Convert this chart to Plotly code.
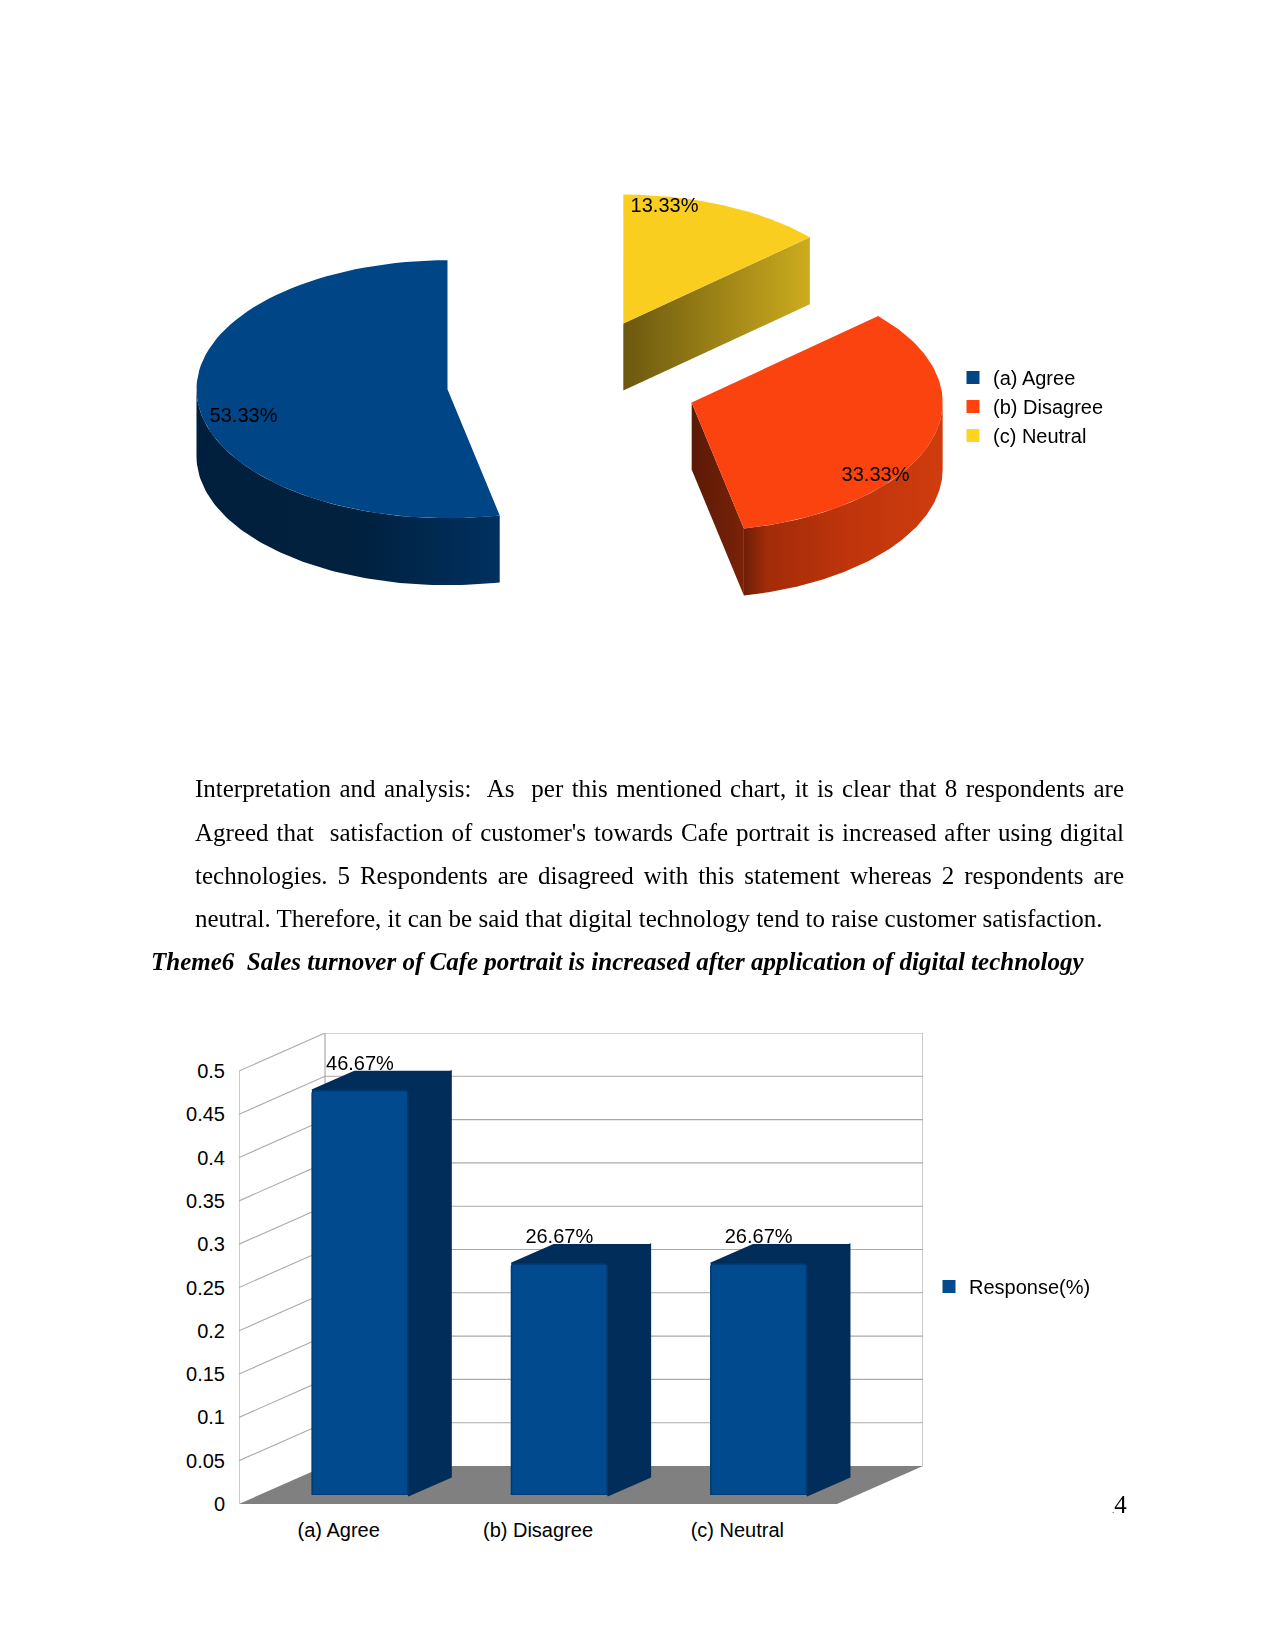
import json
import math
import plotly.graph_objects as go

# ---------- data ----------
PIE_CATEGORIES = ["(a) Agree", "(b) Disagree", "(c) Neutral"]
PIE_SHARES = [53.33, 33.33, 13.33]
BAR_CATEGORIES = ["(a) Agree", "(b) Disagree", "(c) Neutral"]
BAR_VALUES = [0.4667, 0.2667, 0.2667]
BAR_LABELS = ["46.67%", "26.67%", "26.67%"]
BAR_SERIES = "Response(%)"
Y_TICKS = [0, 0.05, 0.1, 0.15, 0.2, 0.25, 0.3, 0.35, 0.4, 0.45, 0.5]
Y_TICK_LABELS = ["0", "0.05", "0.1", "0.15", "0.2", "0.25", "0.3", "0.35", "0.4", "0.45", "0.5"]

BODY_LINES = [
    "Interpretation and analysis:  As  per this mentioned chart, it is clear that 8 respondents are",
    "Agreed that  satisfaction of customer's towards Cafe portrait is increased after using digital",
    "technologies. 5 Respondents are disagreed with this statement whereas 2 respondents are",
    "neutral. Therefore, it can be said that digital technology tend to raise customer satisfaction.",
]
HEADING = "Theme6  Sales turnover of Cafe portrait is increased after application of digital technology"

# ---------- styling / layout constants ----------
W, H = 1275, 1650
SANS = "Liberation Sans"
SERIF = "Liberation Serif"
BLUE, ORANGE, YELLOW = "#004586", "#ff420e", "#ffd320"
TOP_COLORS = ["#004586", "#fb430f", "#f9ce1f"]
DARK_BLUE = "#002d59"
GRID = "#aaaaaa"


def px(x):
    return x / W


def py(y):
    return 1 - y / H


fig = go.Figure()

# ---------- exploded 3-D pie (own page-scaled axes) ----------
CX, CY, RX, RY, EXPLODE, DEPTH = 572.3, 382.5, 251, 129, 0.5, 67
total = sum(PIE_SHARES)
starts, acc = [], 0.0
for s in PIE_SHARES:
    starts.append(acc)
    acc += s / total * 360


def slice_center(start, sweep):
    mid = math.radians(start + sweep / 2)
    return CX - EXPLODE * RX * math.sin(mid), CY - EXPLODE * RY * math.cos(mid)


def arc(c, a0, a1, dy=0.0, n=80):
    pts = []
    for i in range(n + 1):
        t = math.radians(a0 + (a1 - a0) * i / n)
        pts.append((c[0] - RX * math.sin(t), c[1] - RY * math.cos(t) + dy))
    return pts


def poly(pts, color=None, gradient=None, stroke=0):
    xs = [p[0] for p in pts] + [pts[0][0]]
    ys = [p[1] for p in pts] + [pts[0][1]]
    kw = dict(fillcolor=color) if color else dict(fillgradient=gradient)
    line = dict(width=stroke, color=color) if stroke else dict(width=0)
    return dict(x=xs, y=ys, mode="lines", fill="toself", line=line,
                hoverinfo="skip", showlegend=False, **kw)


def hgrad(stops):
    return dict(type="horizontal", colorscale=stops)


sweeps = [s / total * 360 for s in PIE_SHARES]
centers = [slice_center(a, w) for a, w in zip(starts, sweeps)]
PIE_AX = dict(xaxis="x4", yaxis="y4")

# blue: visible curved wall runs from the leftmost point to the slice end
a_end = starts[0] + sweeps[0]
outer = arc(centers[0], 90, a_end)
fig.add_trace(go.Scatter(**poly(outer + arc(centers[0], a_end, 90, DEPTH),
                                gradient=hgrad([[0, "#001f3d"], [0.55, "#00213f"], [1, "#003160"]])), **PIE_AX))
# orange: left cut face, then the curved wall
a0 = starts[1]
a1 = a0 + sweeps[1]
c = centers[1]
edge = arc(c, a0, a0, n=1)[0]
fig.add_trace(go.Scatter(**poly([c, edge, (edge[0], edge[1] + DEPTH), (c[0], c[1] + DEPTH)],
                                gradient=hgrad([[0, "#5a1a06"], [1, "#7a2208"]])), **PIE_AX))
fig.add_trace(go.Scatter(**poly(arc(c, a0, 270) + arc(c, 270, a0, DEPTH),
                                gradient=hgrad([[0, "#6e1f07"], [0.12, "#a32c09"], [0.5, "#bd340b"], [1, "#d03c0e"]])), **PIE_AX))
# yellow: cut face facing the viewer
c = centers[2]
edge = arc(c, starts[2], starts[2], n=1)[0]
fig.add_trace(go.Scatter(**poly([c, edge, (edge[0], edge[1] + DEPTH), (c[0], c[1] + DEPTH)],
                                gradient=hgrad([[0, "#6b5810"], [1, "#cdac1e"]])), **PIE_AX))
# top faces
for a, w, c, col in zip(starts, sweeps, centers, TOP_COLORS):
    fig.add_trace(go.Scatter(**poly([c] + arc(c, a, a + w), color=col), **PIE_AX))

# pie value labels
PIE_LABEL_POS = [(243.5, 417), (875.5, 476), (664.5, 207)]
for s, (lx, ly) in zip(PIE_SHARES, PIE_LABEL_POS):
    fig.add_trace(go.Scatter(x=[lx], y=[ly], mode="text", text=[f"{s:.2f}%"], textposition="middle center",
                             textfont=dict(family=SANS, size=20, color="#000000"),
                             hoverinfo="skip", showlegend=False, cliponaxis=False, **PIE_AX))
# pie legend entries
for name, col in zip(PIE_CATEGORIES, [BLUE, ORANGE, YELLOW]):
    fig.add_trace(go.Scatter(x=[None], y=[None], mode="markers", name=name,
                             marker=dict(symbol="square", size=13, color=col),
                             legend="legend", **PIE_AX))

# ---------- 3-D column chart ----------
FRONT_L, FRONT_R, FRONT_T, FRONT_B = 239, 837, 1071, 1504   # value-axis plane
UX = (FRONT_R - FRONT_L) / 3        # px per category
UY = (FRONT_B - FRONT_T) / 0.5      # px per unit of value
WALL_DX, WALL_DY = 86, 38           # depth of the box
BAR_SHIFT_X, BAR_SHIFT_Y = 21.3, 9  # bar front plane inside the box
BAR_DX, BAR_DY = 44, 20             # bar depth
BAR_W = 0.48
EDGE_ROUND = 3                      # stroke width that rounds the side faces
ox, oy = WALL_DX / UX, WALL_DY / UY

# axis-carrying plane (tick labels)
fig.add_trace(go.Scatter(x=BAR_CATEGORIES, y=BAR_VALUES, mode="markers", opacity=0,
                         hoverinfo="skip", showlegend=False))

BOX = dict(xaxis="x2", yaxis="y2")
fig.add_trace(go.Scatter(**poly([(-0.5, 0), (-0.5 + ox, oy), (2.5 + ox, oy), (2.5, 0)], color="#808080"), **BOX))
for t in Y_TICKS:
    if t == 0:
        continue
    fig.add_trace(go.Scatter(x=[-0.5, -0.5 + ox, 2.5 + ox], y=[t, t + oy, t + oy], mode="lines",
                             line=dict(color=GRID, width=1.1), hoverinfo="skip", showlegend=False, **BOX))
for xs, ys in [([-0.5, -0.5], [0, 0.5]),
               ([-0.5 + ox, -0.5 + ox], [oy, 0.5 + oy]),
               ([2.5 + ox, 2.5 + ox], [oy, 0.5 + oy])]:
    fig.add_trace(go.Scatter(x=xs, y=ys, mode="lines", line=dict(color=GRID, width=1.2),
                             hoverinfo="skip", showlegend=False, **BOX))

# bar side and top faces, derived from the values
sx, sy = BAR_SHIFT_X / UX, BAR_SHIFT_Y / UY
bx, by = (BAR_DX - EDGE_ROUND / 2) / UX, (BAR_DY - EDGE_ROUND / 2) / UY
for i, v in enumerate(BAR_VALUES):
    l, r = i + sx - BAR_W / 2, i + sx + BAR_W / 2
    b, t = sy, v + sy
    fig.add_trace(go.Scatter(**poly([(r, b), (r + bx, b + by), (r + bx, t + by), (r, t)],
                                    color=DARK_BLUE, stroke=EDGE_ROUND), **BOX))
    fig.add_trace(go.Scatter(**poly([(l, t), (l + bx, t + by), (r + bx, t + by), (r, t)],
                                    color=DARK_BLUE, stroke=EDGE_ROUND), **BOX))

# bar fronts
fig.add_trace(go.Bar(x=BAR_CATEGORIES, y=BAR_VALUES, width=BAR_W, name=BAR_SERIES, showlegend=False,
                     marker=dict(color="#014a8e", line=dict(color="#003a72", width=1.5), cornerradius=3),
                     xaxis="x3", yaxis="y3"))
fig.add_trace(go.Scatter(x=[None], y=[None], mode="markers", name=BAR_SERIES,
                         marker=dict(symbol="square", size=13, color="#014a8e"),
                         legend="legend2", xaxis="x3", yaxis="y3"))
LABEL_LIFT = 26 / UY
fig.add_trace(go.Scatter(x=BAR_CATEGORIES, y=[v + LABEL_LIFT for v in BAR_VALUES], mode="text", text=BAR_LABELS,
                         textposition="middle center", textfont=dict(family=SANS, size=20, color="#000000"),
                         hoverinfo="skip", showlegend=False, cliponaxis=False, xaxis="x3", yaxis="y3"))

hidden = dict(visible=False, showgrid=False, zeroline=False)
fig.update_layout(
    width=W, height=H, margin=dict(l=0, r=0, t=0, b=0, autoexpand=False),
    paper_bgcolor="white", plot_bgcolor="rgba(0,0,0,0)",
    font=dict(family=SANS, size=20, color="#000000"),
    showlegend=True, barmode="overlay",
    xaxis=dict(domain=[px(FRONT_L), px(FRONT_R)], type="category", categoryorder="array",
               categoryarray=BAR_CATEGORIES, range=[-0.5, 2.5], showgrid=False, zeroline=False,
               showline=False, ticks="outside", ticklen=8, tickcolor="rgba(0,0,0,0)",
               tickfont=dict(family=SANS, size=20, color="#000000")),
    yaxis=dict(domain=[py(FRONT_B), py(FRONT_T)], range=[0, 0.5], tickvals=Y_TICKS, ticktext=Y_TICK_LABELS,
               showgrid=False, zeroline=False, showline=False, ticks="outside", ticklen=9,
               tickcolor="rgba(0,0,0,0)", tickfont=dict(family=SANS, size=20, color="#000000")),
    xaxis2=dict(domain=[px(FRONT_L), px(FRONT_R + WALL_DX)], range=[-0.5, 2.5 + ox], anchor="y2", **hidden),
    yaxis2=dict(domain=[py(FRONT_B), py(FRONT_T - WALL_DY)], range=[0, 0.5 + oy], anchor="x2", **hidden),
    xaxis3=dict(domain=[px(FRONT_L + BAR_SHIFT_X), px(FRONT_R + BAR_SHIFT_X)], type="category",
                categoryorder="array", categoryarray=BAR_CATEGORIES, range=[-0.5, 2.5], anchor="y3", **hidden),
    yaxis3=dict(domain=[py(FRONT_B - BAR_SHIFT_Y), py(FRONT_T - BAR_SHIFT_Y)], range=[0, 0.5], anchor="x3", **hidden),
    xaxis4=dict(domain=[0, 1], range=[0, W], anchor="y4", **hidden),
    yaxis4=dict(domain=[0, 1], range=[H, 0], anchor="x4", **hidden),
    legend=dict(x=px(953), y=py(358), xanchor="left", yanchor="top", bgcolor="rgba(0,0,0,0)",
                font=dict(family=SANS, size=20, color="#000000"), traceorder="normal"),
    legend2=dict(x=px(929), y=py(1267), xanchor="left", yanchor="top", bgcolor="rgba(0,0,0,0)",
                 font=dict(family=SANS, size=20, color="#000000")),
)

# ---------- page text ----------
TEXT_FONT = dict(family=SERIF, size=25, color="#000000")
BODY_X, BODY_Y = 195, [788.5, 832, 875, 918]
BODY_WIDTHS = [929, 929, 929, None]
HEAD_X, HEAD_Y = 150.5, 961


def note(text, x, y, font, xanchor="left"):
    fig.add_annotation(text=text, x=px(x), y=py(y), xref="paper", yref="paper", showarrow=False,
                       xanchor=xanchor, yanchor="middle", align="left", font=font, borderpad=0, borderwidth=0)


for line, y in zip(BODY_LINES, BODY_Y):
    note(line, BODY_X, y, TEXT_FONT)
note(f"<b><i>{HEADING}</i></b>", HEAD_X, HEAD_Y, TEXT_FONT)
note('<span style="font-size:9px">.</span>4', 1127, 1504, TEXT_FONT, xanchor="right")

targets = {l: w for l, w in zip(BODY_LINES, BODY_WIDTHS) if w}
script = """
document.body.style.margin = '0';
var targets = %s;
document.querySelectorAll('.annotation-text').forEach(function (el) {
  var t = el.textContent, w = targets[t];
  if (!w) return;
  var n = t.split(' ').length - 1;
  el.style.wordSpacing = ((w - el.getComputedTextLength()) / n) + 'px';
});
""" % json.dumps(targets)

fig.write_html("out.html", post_script=script, config=dict(displayModeBar=False))
